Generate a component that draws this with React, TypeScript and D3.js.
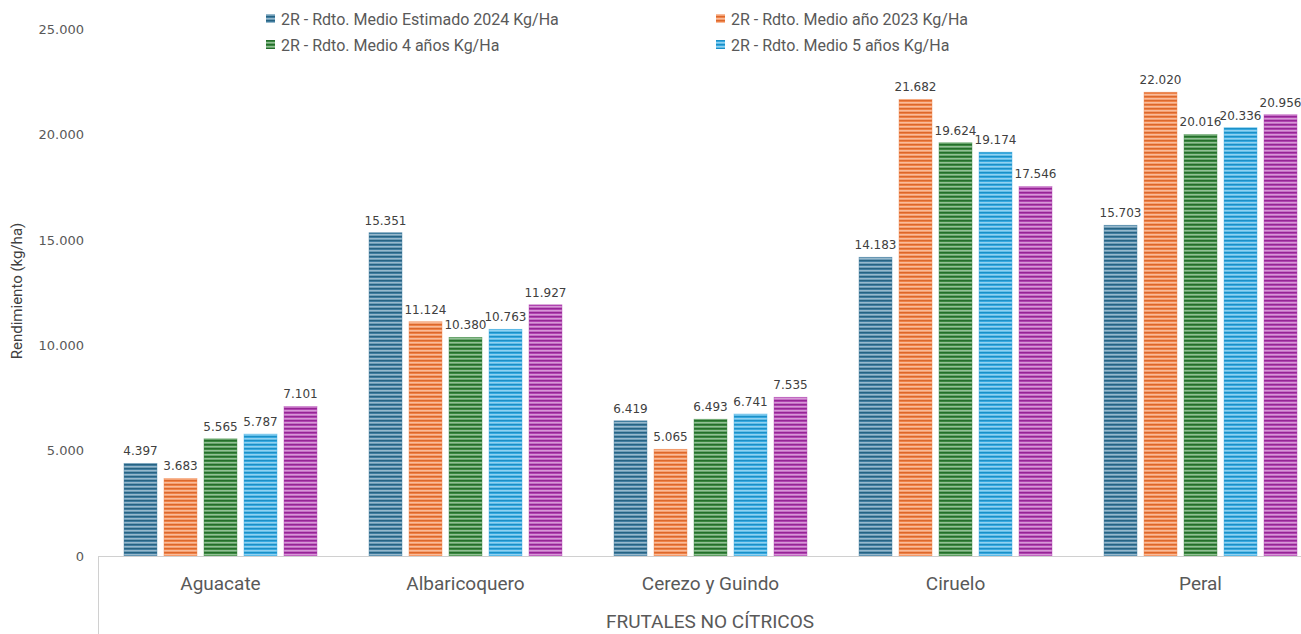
import React from "react";
import * as d3 from "d3";

const categories = ["Aguacate", "Albaricoquero", "Cerezo y Guindo", "Ciruelo", "Peral"];
const seriesNames = [
  "2R - Rdto. Medio Estimado 2024 Kg/Ha",
  "2R - Rdto. Medio año 2023 Kg/Ha",
  "2R - Rdto. Medio 4 años Kg/Ha",
  "2R - Rdto. Medio 5 años Kg/Ha",
  "2R - Rdto. Medio 3 años Kg/Ha",
];
const estimado2024 = [4397, 15351, 6419, 14183, 15703];
const anio2023 = [3683, 11124, 5065, 21682, 22020];
const medio4 = [5565, 10380, 6493, 19624, 20016];
const medio5 = [5787, 10763, 6741, 19174, 20336];
const medio3 = [7101, 11927, 7535, 17546, 20956];
const seriesValues = [estimado2024, anio2023, medio4, medio5, medio3];
const yTicks = [0, 5000, 10000, 15000, 20000, 25000];
const legendShown = 4;

const colors = ["#4380a3", "#f2854a", "#3d8c42", "#38ace3", "#b445b4"];
const darks = ["#23607f", "#d9652a", "#22692a", "#1a8cc4", "#902290"];

const W = 1301;
const H = 634;
const left = 98;
const right = 1323;
const y0 = 556;
const yTop = 29.5;
const FONT = "Roboto, 'Liberation Sans', Arial, sans-serif";
const NUMFONT = "'DejaVu Sans', Verdana, sans-serif";

const locale = d3.formatLocale({ decimal: ",", thousands: ".", grouping: [3], currency: ["", "€"] });
const fmt = locale.format(",d");

export default function App() {
  const x0 = d3.scaleBand<string>().domain(categories).range([left, right]).paddingInner(0.1837).paddingOuter(0.0918);
  const x1 = d3
    .scaleBand<number>()
    .domain(d3.range(seriesValues.length))
    .range([0, x0.bandwidth()])
    .paddingInner(0.175)
    .paddingOuter(0.0875);
  const y = d3.scaleLinear().domain([0, 25000]).range([y0, yTop]);

  return (
    <svg width={W} height={H} style={{ display: "block", position: "absolute", left: 0, top: 0 }} fontFamily={FONT}>
      <defs>
        {colors.map((c, i) => (
          <pattern key={i} id={`stripe${i}`} width={8} height={4} patternUnits="userSpaceOnUse">
            <rect width={8} height={4} fill={c} />
            <rect y={0} width={8} height={1.1} fill={darks[i]} opacity={0.9} />
            <rect y={2} width={8} height={1.5} fill="#ffffff" opacity={0.45} />
          </pattern>
        ))}
      </defs>
      <rect width={W} height={H} fill="#ffffff" />

      {/* y ticks */}
      {yTicks.map((t) => (
        <text key={t} x={84} y={y(t)} dy="0.35em" textAnchor="end" fontSize={13} fontFamily={NUMFONT} fill="#595959">
          {fmt(t)}
        </text>
      ))}
      <text
        transform={`translate(22,291) rotate(-90)`}
        textAnchor="middle"
        fontSize={15}
        fill="#404040"
      >
        Rendimiento (kg/ha)
      </text>

      {/* bars */}
      {categories.map((cat, ci) => (
        <g key={cat} transform={`translate(${x0(cat)},0)`}>
          {seriesValues.map((vals, si) => {
            const v = vals[ci];
            const bx = x1(si) as number;
            const bw = x1.bandwidth();
            return (
              <g key={si}>
                <rect x={bx} y={y(v)} width={bw} height={y0 - y(v)} fill={`url(#stripe${si})`} stroke={colors[si]} strokeOpacity={0.5} strokeWidth={0.8} />
                <text x={bx + bw / 2} y={y(v) - 8} textAnchor="middle" fontSize={12} fontFamily={NUMFONT} fill="#404040">
                  {fmt(v)}
                </text>
              </g>
            );
          })}
        </g>
      ))}

      {/* x axis */}
      <line x1={left} x2={right} y1={y0 + 0.5} y2={y0 + 0.5} stroke="#d0d0d0" strokeWidth={1} />
      <line x1={left + 0.5} x2={left + 0.5} y1={y0} y2={H} stroke="#d0d0d0" strokeWidth={1} />
      {categories.map((cat) => (
        <text key={cat} x={(x0(cat) as number) + x0.bandwidth() / 2} y={583} dy="0.35em" textAnchor="middle" fontSize={19} fill="#595959">
          {cat}
        </text>
      ))}
      <text x={710} y={621} dy="0.35em" textAnchor="middle" fontSize={19} fill="#595959">
        FRUTALES NO CÍTRICOS
      </text>

      {/* legend */}
      {seriesNames.slice(0, legendShown).map((name, i) => {
        const lx = i % 2 === 0 ? 266 : 716;
        const ly = i < 2 ? 19 : 45;
        return (
          <g key={name}>
            <rect x={lx} y={ly - 5} width={9} height={9} fill={`url(#stripe${i})`} />
            <text x={lx + 15} y={ly} dy="0.35em" fontSize={16} fill="#595959">
              {name}
            </text>
          </g>
        );
      })}
    </svg>
  );
}
